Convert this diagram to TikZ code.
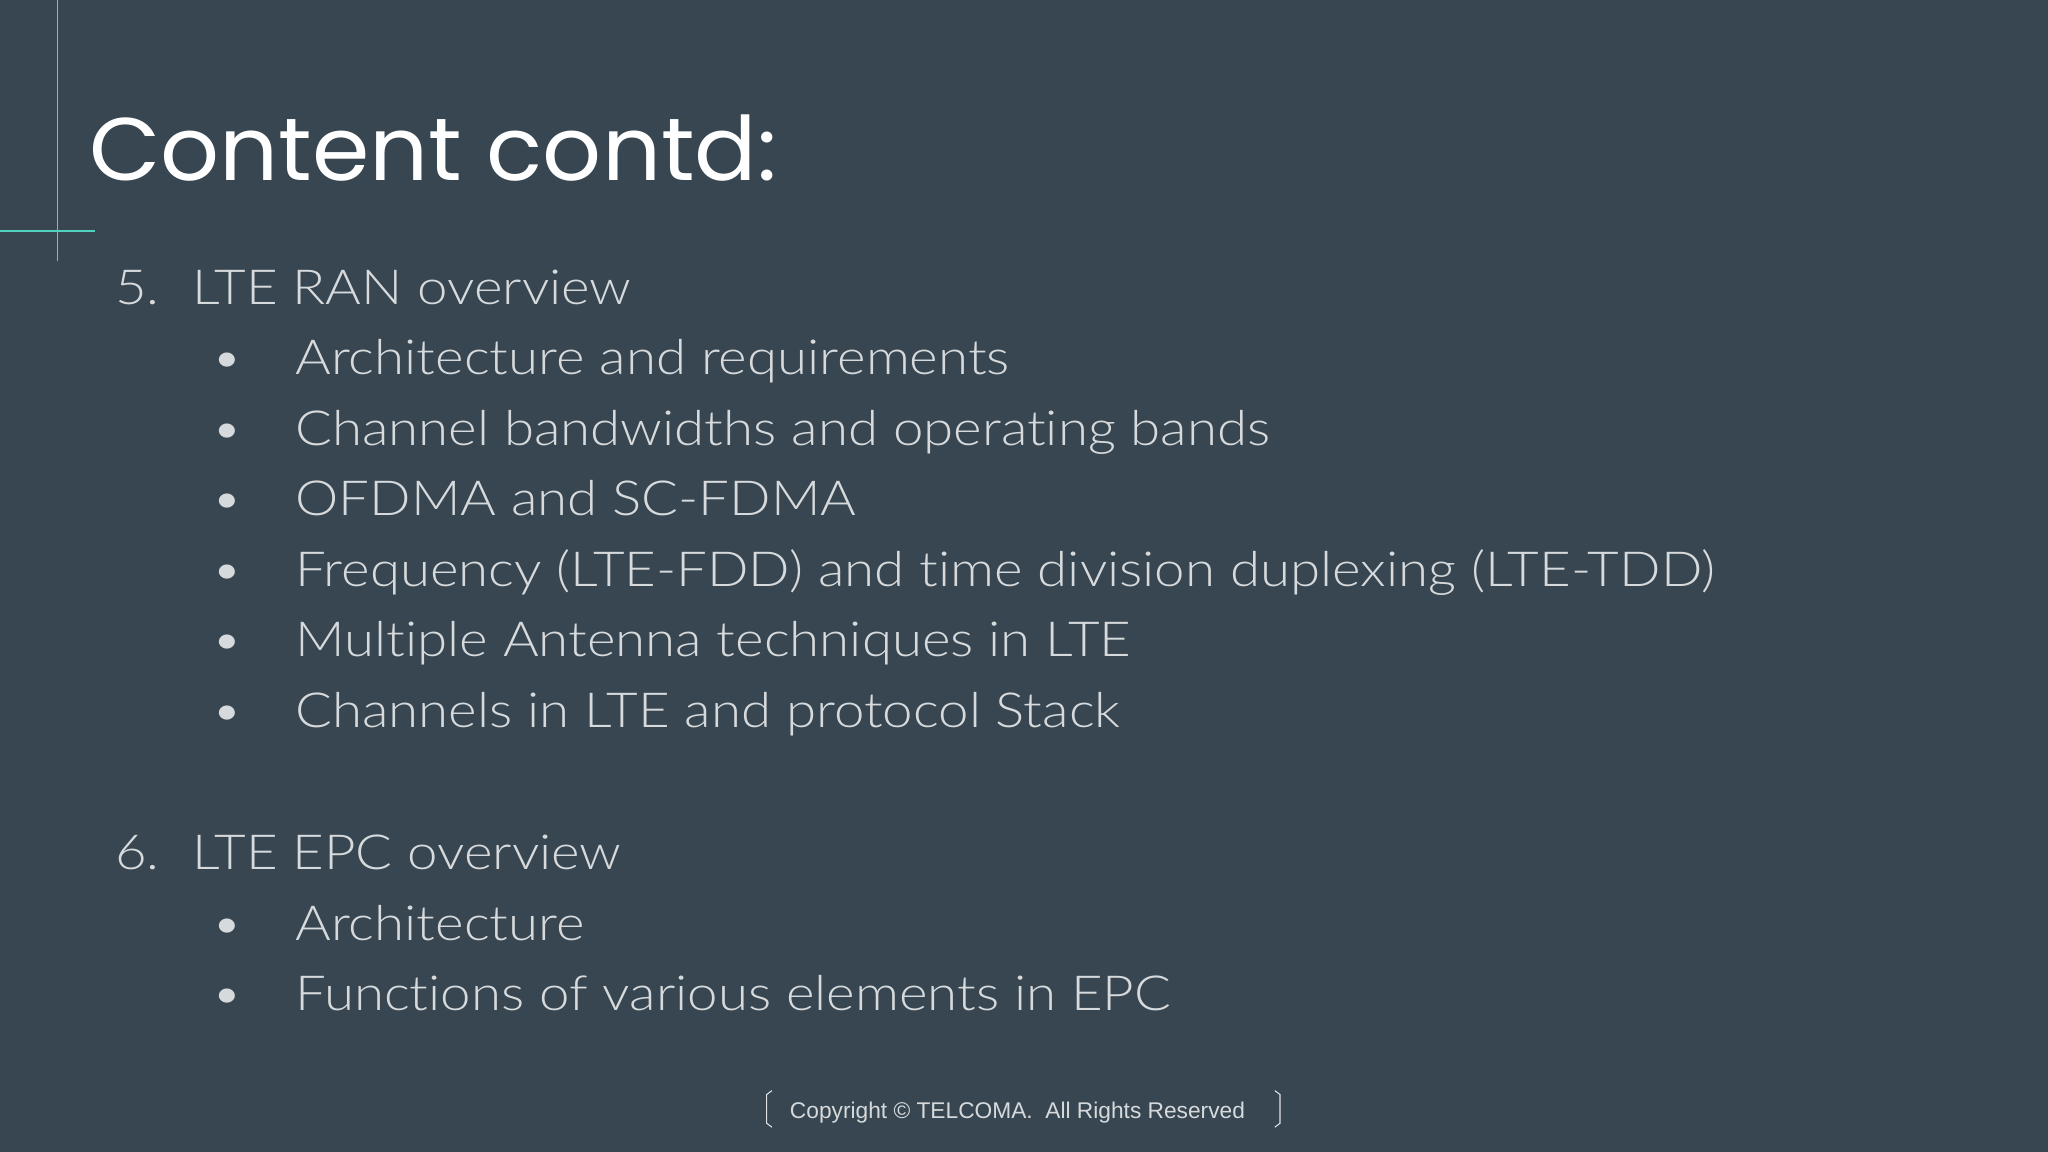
\documentclass[tikz,border=0pt]{standalone}
\usepackage{fontspec}
\setmainfont{Lato Light}[FakeStretch=1.13,Ligatures={NoCommon}]
\newfontfamily\titlefont{Poppins}[FakeStretch=1.04]
\newfontfamily\footfont{Liberation Sans}
\definecolor{bgc}{RGB}{55,70,80}
\definecolor{txt}{RGB}{215,218,220}
\definecolor{acc}{RGB}{80,210,190}
\begin{document}
\begin{tikzpicture}[x=1pt,y=-1pt,
  item/.style={anchor=base west,text=txt,font=\fontsize{37}{44}\selectfont,inner sep=0},
  bul/.style={anchor=base,text=txt,font=\fontsize{37}{44}\selectfont,inner sep=0}]
\fill[bgc] (0,0) rectangle (1568,882);
\useasboundingbox (0,0) rectangle (1568,882);
\draw[acc,line width=1.2] (44,0) -- (44,200);
\draw[acc,line width=1.2] (0,177) -- (73,177);
\node[anchor=base west,text=white,inner sep=0,font=\titlefont\fontsize{68}{80}\selectfont] (title) at (68,138) {Content contd:};
\node[item] (n5) at (88,233) {5.};
\node[item] (h5) at (147,233) {LTE RAN overview};
\foreach \y/\t [count=\i] in {287/Architecture and requirements,341/Channel bandwidths and operating bands,395/OFDMA and SC-FDMA,449/Frequency (LTE-FDD) and time division duplexing (LTE-TDD),503/Multiple Antenna techniques in LTE,557/Channels in LTE and protocol Stack}{
  \node[bul] (b\i) at (174,\y) {•};
  \node[item] (t\i) at (226,\y) {\t};
}
\node[item] (n6) at (88,666) {6.};
\node[item] (h6) at (147,666) {LTE EPC overview};
\node[bul] (c1) at (174,720) {•};
\node[item] (u1) at (226,720) {Architecture};
\node[bul] (c2) at (174,774) {•};
\node[item] (u2) at (226,774) {Functions of various elements in EPC};
\node[anchor=base,text=txt,inner sep=0,font=\footfont\fontsize{17.4}{20}\selectfont] (foot) at (779,856) {Copyright © TELCOMA.\ \ All Rights Reserved};
\draw[txt!80,line width=0.8] (591,835) -- (587,838) -- (587,860) -- (591,863);
\draw[txt!80,line width=0.8] (976,835) -- (980,838) -- (980,860) -- (976,863);
\end{tikzpicture}
\end{document}
